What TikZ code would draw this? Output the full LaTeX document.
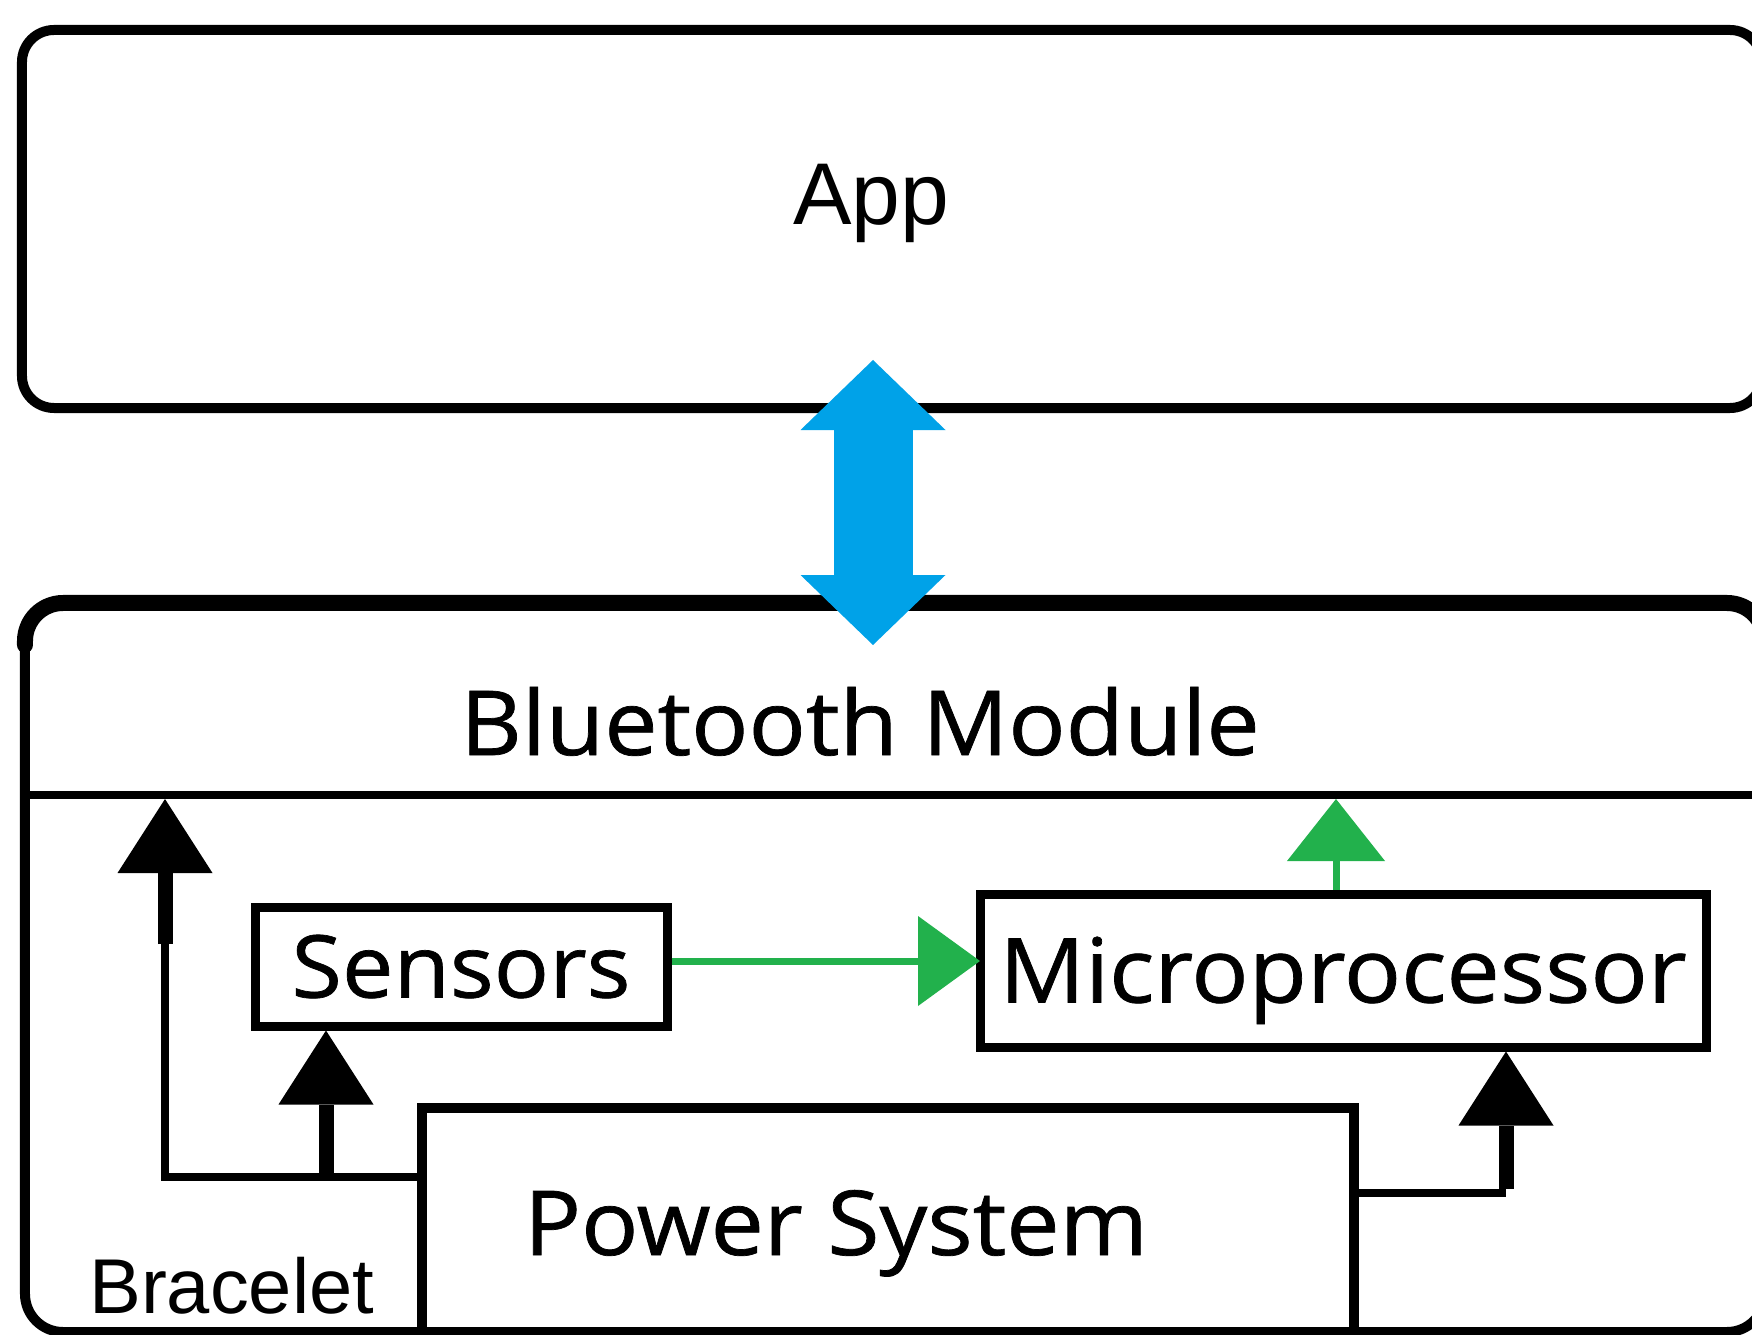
\documentclass[tikz,border=0pt]{standalone}
\usepackage{fontspec}
\setmainfont{Open Sans}
\newfontfamily\segoe[FakeStretch=1.06, FakeBold=0.8]{Open Sans}
\newfontfamily\arialf{Liberation Sans}
\usetikzlibrary{arrows.meta}
\definecolor{pgreen}{RGB}{34,177,76}
\definecolor{pblue}{RGB}{0,162,232}
\tikzset{
  box/.style={draw, line width=9bp, inner sep=0pt, outer sep=0pt},
  region/.style={inner sep=0pt, outer sep=0pt},
  lbl/.style={font=\segoe\fontsize{90}{100}\selectfont, inner sep=0pt},
  boxlbl/.style={font=\segoe\fontsize{90}{100}\selectfont, text height=64bp, text depth=0pt},
  wire/.style={line width=8bp, line join=miter},
  pwrarrow/.style={line width=15bp, -{Triangle[width=95bp,length=74bp,line width=0pt]}},
  garrow/.style={draw=pgreen, line width=7bp, -{Triangle[width=90bp,length=62bp,line width=0pt]}},
  garrowup/.style={draw=pgreen, line width=7bp, -{Triangle[width=98bp,length=62bp,line width=0pt]}},
  barrow/.style={draw=pblue, line width=79bp, {Triangle[width=145bp,length=70bp,line width=0pt]}-{Triangle[width=145bp,length=70bp,line width=0pt]}},
}
\begin{document}
\begin{tikzpicture}[x=1bp,y=-1bp]
\useasboundingbox (0,0) rectangle (1752,1335);
\clip (0,0) rectangle (1752,1335);
\fill[white] (0,0) rectangle (1752,1335);

% App box
\node[box, line width=10bp, rounded corners=32bp, minimum width=1740bp, minimum height=378bp] (app) at (892,219) {};
\node[font=\arialf\fontsize{88}{100}\selectfont, inner sep=0pt, anchor=base] (appl) at (871,225) {App};

% Bracelet box
\node[box, line width=10bp, rounded corners=38bp, minimum width=1740bp, minimum height=729bp] (brac) at (895,967.5) {};
\draw[line width=16bp, line cap=round, rounded corners=38bp] ([yshift=-42bp]brac.north west) -- (brac.north west) -- (brac.north east) -- ([yshift=-42bp]brac.north east);
\node[font=\arialf\fontsize{78}{90}\selectfont, anchor=base west, inner sep=0pt] (bracl) at (89,1313) {Bracelet};

% Bluetooth module region
\node[region, minimum width=1740bp, minimum height=192bp] (bt) at (895,699) {};
\draw[line width=8bp] (bt.south west) -- (bt.south east);
\node[lbl, anchor=base] (btl) at (860,755) {Bluetooth Module};

% Sensors, Microprocessor, Power System
\node[box, boxlbl, font=\segoe\fontsize{87}{100}\selectfont, text height=62bp, minimum width=412bp, minimum height=119bp] (sens) at (461,966.5) {Sensors};
\node[box, boxlbl, minimum width=726bp, minimum height=153bp] (micro) at (1343,970.5) {Microprocessor};
\node[box, line width=10bp, minimum width=932bp, minimum height=260bp] (pwr) at (888,1238) {};
\node[lbl, anchor=base] (pwrl) at (836,1255) {Power System};

% Power wiring
\coordinate (pL) at (165,1177);
\coordinate (pS) at (326,1177);
\coordinate (pLt) at (165,944);
\coordinate (pR) at (1506,1193);
\draw[wire] (pwr.west |- pL) -- (pL) -- (pLt);
\draw[pwrarrow, shorten >=4bp] (pLt) -- (pLt |- bt.south);
\draw[pwrarrow, shorten >=4.5bp] (pS) -- (sens.south -| pS);
\draw[wire] (pwr.east |- pR) -- (pR);
\draw[pwrarrow, shorten >=4.5bp] ([yshift=4bp]pR) -- (micro.south -| pR);

% Data arrows
\path ([yshift=5.5bp]sens.east) coordinate (gS);
\path ([xshift=-7bp]micro.north) coordinate (gM);
\draw[garrow, shorten <=4.5bp] (gS) -- (gS -| micro.west);
\draw[garrowup, shorten <=4.5bp, shorten >=4bp] (gM) -- (gM |- bt.south);

% Bluetooth link
\coordinate (bTop) at (873,360);
\coordinate (bBot) at (873,645);
\draw[barrow] (bTop) -- (bBot);
\end{tikzpicture}
\end{document}
